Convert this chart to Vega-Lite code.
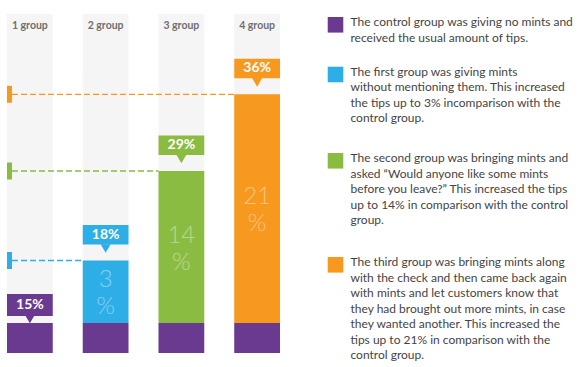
{
  "$schema": "https://vega.github.io/schema/vega-lite/v6.json",
  "padding": 0,
  "spacing": 0,
  "bounds": "flush",
  "config": {
    "view": {"stroke": null},
    "axis": {"disable": true},
    "legend": {"disable": true},
    "font": "Lato",
    "text": {"font": "Lato"}
  },
  "hconcat": [
    {
      "width": 300,
      "height": 367,
      "data": {
        "values": [
          {"group": "1 group", "base": 15, "inc": 0, "total": 15, "label": "15%", "big": ""},
          {"group": "2 group", "base": 15, "inc": 3, "total": 18, "label": "18%", "big": "3\n%"},
          {"group": "3 group", "base": 15, "inc": 14, "total": 29, "label": "29%", "big": "14\n%"},
          {"group": "4 group", "base": 15, "inc": 21, "total": 36, "label": "36%", "big": "21\n%"}
        ]
      },
      "encoding": {
        "x": {
          "field": "group",
          "type": "nominal",
          "scale": {
            "type": "band",
            "domain": ["1 group", "2 group", "3 group", "4 group"],
            "range": [7, 280],
            "paddingInner": 0.396,
            "paddingOuter": 0
          }
        }
      },
      "layer": [
        {
          "mark": {"type": "bar", "color": "#f5f5f5"},
          "encoding": {
            "y": {
              "datum": 40,
              "type": "quantitative",
              "scale": {
                "domain": [0, 15, 18, 29, 36, 40],
                "range": [353, 323, 260.5, 171, 94.3, 14],
                "nice": false,
                "zero": false
              }
            },
            "y2": {"datum": 0}
          }
        },
        {
          "mark": {"type": "text", "yOffset": 12, "fontSize": 10.5, "fontWeight": "bold", "fill": "#6f6f6f", "baseline": "middle"},
          "encoding": {
            "y": {"datum": 40, "type": "quantitative"},
            "text": {"field": "group"}
          }
        },
        {
          "mark": {"type": "bar", "color": "#6A3A91"},
          "encoding": {
            "y": {"field": "base", "type": "quantitative"},
            "y2": {"datum": 0}
          }
        },
        {
          "transform": [{"filter": "datum.inc > 0"}],
          "mark": {"type": "bar"},
          "encoding": {
            "y": {"field": "total", "type": "quantitative"},
            "y2": {"field": "base"},
            "color": {
              "field": "group",
              "type": "nominal",
              "scale": {
                "domain": ["1 group", "2 group", "3 group", "4 group"],
                "range": ["#6A3A91", "#2EAEE6", "#8BBC42", "#F8991F"]
              }
            }
          }
        },
        {
          "transform": [{"filter": "datum.inc > 0"}],
          "mark": {"type": "rule", "strokeDash": [6, 3], "strokeWidth": 1.3, "xOffset": 5},
          "encoding": {
            "x": {"datum": "1 group", "type": "nominal", "bandPosition": 0},
            "x2": {"field": "group", "bandPosition": 0},
            "y": {"field": "total", "type": "quantitative"},
            "color": {"field": "group", "type": "nominal"}
          }
        },
        {
          "transform": [{"filter": "datum.inc > 0"}],
          "mark": {"type": "rule", "strokeWidth": 5, "xOffset": 2.5, "yOffset": -8.5, "y2Offset": 8.5},
          "encoding": {
            "x": {"datum": "1 group", "type": "nominal", "bandPosition": 0},
            "y": {"field": "total", "type": "quantitative"},
            "y2": {"field": "total"},
            "color": {"field": "group", "type": "nominal"}
          }
        },
        {
          "mark": {
            "type": "bar",
            "yOffset": {"expr": "datum.group === '1 group' ? -29 : -35.5"},
            "y2Offset": {"expr": "datum.group === '1 group' ? -7 : -16"}
          },
          "encoding": {
            "y": {"field": "total", "type": "quantitative"},
            "y2": {"field": "total"},
            "color": {"field": "group", "type": "nominal"}
          }
        },
        {
          "mark": {
            "type": "point",
            "shape": "triangle-down",
            "size": 100,
            "filled": true,
            "opacity": 1,
            "strokeWidth": 0,
            "yOffset": {"expr": "datum.group === '1 group' ? -4 : -12"}
          },
          "encoding": {
            "y": {"field": "total", "type": "quantitative"},
            "color": {"field": "group", "type": "nominal"}
          }
        },
        {
          "mark": {
            "type": "text",
            "fill": "#ffffff",
            "fontSize": 14,
            "fontWeight": "bold",
            "baseline": "middle",
            "yOffset": {"expr": "datum.group === '1 group' ? -18 : -26"}
          },
          "encoding": {
            "y": {"field": "total", "type": "quantitative"},
            "text": {"field": "label"}
          }
        },
        {
          "transform": [{"filter": "datum.inc > 0"}],
          "mark": {
            "type": "text",
            "fill": "#ffffff",
            "opacity": 0.4,
            "fontSize": 24,
            "fontWeight": 300,
            "lineHeight": 27,
            "lineBreak": "\n",
            "baseline": "middle",
            "y": {"expr": "(scale('concat_0_y', datum.base) + scale('concat_0_y', datum.total)) / 2 - 11.5"}
          },
          "encoding": {
            "text": {"field": "big"}
          }
        }
      ]
    },
    {
      "width": 284,
      "height": 367,
      "data": {
        "values": [
          {"item": 1, "group": "1 group", "text": "The control group was giving no mints and\nreceived the usual amount of tips."},
          {"item": 2, "group": "2 group", "text": "The first group was giving mints\nwithout mentioning them. This increased\nthe tips up to 3% incomparison with the\ncontrol group."},
          {"item": 3, "group": "3 group", "text": "The second group was bringing mints and\nasked  “Would anyone like some mints\nbefore you leave?” This increased the tips\nup to 14% in comparison with the control\ngroup."},
          {"item": 4, "group": "4 group", "text": "The third group was bringing mints along\nwith the check and then came back again\nwith mints and let customers know that\nthey had brought out more mints, in case\nthey wanted another. This increased the\ntips up to 21% in comparison with the\ncontrol group."}
        ]
      },
      "encoding": {
        "y": {
          "field": "item",
          "type": "quantitative",
          "scale": {"domain": [1, 2, 3, 4], "range": [17, 66.7, 153, 257], "nice": false, "zero": false}
        }
      },
      "layer": [
        {
          "mark": {"type": "point", "shape": "square", "filled": true, "size": 243, "opacity": 1, "strokeWidth": 0, "yOffset": 7.8},
          "encoding": {
            "x": {
              "datum": "key",
              "type": "nominal",
              "scale": {"type": "point", "domain": ["key", "text"], "range": [35.5, 50.5], "padding": 0}
            },
            "color": {
              "field": "group",
              "type": "nominal",
              "scale": {
                "domain": ["1 group", "2 group", "3 group", "4 group"],
                "range": ["#6A3A91", "#2EAEE6", "#8BBC42", "#F8991F"]
              }
            }
          }
        },
        {
          "mark": {"type": "text", "align": "left", "baseline": "top", "fontSize": 12, "lineHeight": 15.5, "lineBreak": "\n", "fill": "#444444"},
          "encoding": {
            "x": {"datum": "text", "type": "nominal"},
            "text": {"field": "text"}
          }
        }
      ]
    }
  ]
}
